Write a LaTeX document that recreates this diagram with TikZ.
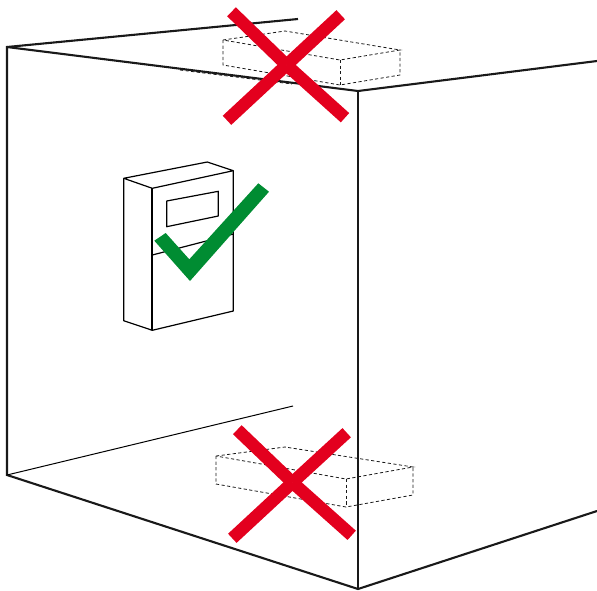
\documentclass[tikz,border=0pt]{standalone}
\usepackage{amsmath,amssymb}
\usepackage{tikz}
\tikzset{
  room/.style={line width=2.1pt,draw=black!90},
  hidden/.style={line width=.8pt,dash pattern=on 3.2pt off 2.4pt,draw=black!90},
  case/.style={line width=1.2pt,line join=round},
  cross/.style={line width=12.5pt,draw=crossred},
  tick/.style={fill=tickgreen,draw=none}
}
\definecolor{crossred}{RGB}{227,0,30}
\definecolor{tickgreen}{RGB}{0,140,50}
\begin{document}
\begin{tikzpicture}[x=1pt,y=-1pt]
    \useasboundingbox (0,0) rectangle (597,590);
    % room
    \coordinate (tl) at (7,47);
    \coordinate (bl) at (7,475);
    \coordinate (tc) at (358,91);
    \coordinate (bc) at (358,589);
    \coordinate (tr) at (597,61);
    \coordinate (br) at (597,511);
    \coordinate (tb) at (298,19);
    \coordinate (fb) at (293,406);
    \draw[room] (tb) -- (tl) -- (bl) -- (bc) -- (br);
    \draw[room] (tl) -- (tc) -- (tr);
    \draw[room] (tc) -- (bc);
    \draw[line width=1pt] (bl) -- (fb);
    \draw[hidden] (180,70) -- (292,84);
    % unit on the ceiling
    \draw[hidden] (223,40) -- (285,31) -- (400,50) -- (340,60) -- cycle;
    \draw[hidden] (223,40) -- (223,65) -- (340,85) -- (400,75) -- (400,50);
    \draw[hidden] (340,60) -- (340,85);
    % unit on the floor
    \draw[hidden] (216,456) -- (285,447) -- (413,467) -- (346,479) -- cycle;
    \draw[hidden] (216,456) -- (216,484) -- (346,507) -- (413,495) -- (413,467);
    \draw[hidden] (346,479) -- (346,507);
    % unit on the wall
    \draw[case] (152.3,188.3) -- (123.7,178.3) -- (207.3,162) -- (233.3,170.7) -- cycle;
    \draw[case] (123.7,178.3) -- (123.7,320.7) -- (152.3,330.3) -- (233.3,311) -- (233.3,170.7);
    \draw[line width=1.8pt] (152.3,188.3) -- (152.3,330.3);
    \draw[case] (152.3,255) -- (233.3,234);
    \draw[case] (166.7,201) -- (218.3,191.3) -- (218.3,216) -- (166.7,226.7) -- cycle;
    % marks
    \fill[tick] (154.3,240.7) -- (165.7,233) -- (189.3,259.3) -- (258.3,183.3)
      -- (269,191.7) -- (190,281) -- cycle;
    \foreach \a/\b in {231.5/11.8,227/120.3,345/117.7,340.7/14.7}
    \draw[cross] (\a,\b) -- (286.5,65);
    \foreach \a/\b in {237.3/429.7,232.3/538.3,351.7/535.3,346.7/432.7}
    \draw[cross] (\a,\b) -- (292.5,482.5);
\end{tikzpicture}
\end{document}
